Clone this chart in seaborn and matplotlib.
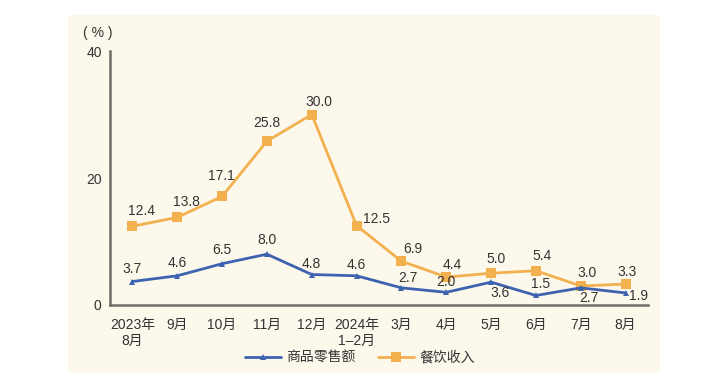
import numpy as np
import pandas as pd
import matplotlib
matplotlib.use("Agg")
import matplotlib.pyplot as plt
from matplotlib.patches import Rectangle
from matplotlib.lines import Line2D
import seaborn as sns

categories = ["2023年\n8月", "9月", "10月", "11月", "12月", "2024年\n1–2月",
              "3月", "4月", "5月", "6月", "7月", "8月"]
retail = [3.7, 4.6, 6.5, 8.0, 4.8, 4.6, 2.7, 2.0, 3.6, 1.5, 2.7, 1.9]
catering = [12.4, 13.8, 17.1, 25.8, 30.0, 12.5, 6.9, 4.4, 5.0, 5.4, 3.0, 3.3]
series_names = ["商品零售额", "餐饮收入"]
y_ticks = [0, 20, 40]

# label offsets in pixels (dx, dy)
retail_off = [(0, 13), (0, 13), (0, 14), (0, 14), (0, 11), (0, 11), (7, 10), (0, 10),
              (9, -11), (5, 11), (8, -10), (13, -3)]
catering_off = [(9, 15), (9, 15), (-1, 20), (0, 18), (7, 13), (20, 7), (11, 12), (6, 12),
                (5, 14), (6, 15), (6, 13), (1, 12)]

sns.set_theme(style="white")
plt.rcParams["font.family"] = ["Liberation Sans", "Noto Sans CJK SC", "DejaVu Sans"]

BLUE = "#3d63b0"
ORANGE = "#f2b04e"
TXT = "#333333"
SPINE = "#6f6a66"

fig = plt.figure(figsize=(7.06, 3.80), dpi=100)
fig.patch.set_facecolor("white")
fig.patches.append(Rectangle((68 / 706, 1 - 373 / 380), (660 - 68) / 706, (373 - 15) / 380,
                             transform=fig.transFigure, facecolor="#fdf8ec",
                             edgecolor="none", zorder=-10))
ax = fig.add_axes([110 / 706, 1 - 305 / 380, (648 - 110) / 706, (305 - 51) / 380])
ax.set_facecolor("none")
ax.set_zorder(2)

x = np.arange(len(categories))
df = pd.DataFrame({"x": np.concatenate([x, x]),
                   "y": retail + catering,
                   "s": [series_names[0]] * len(x) + [series_names[1]] * len(x)})

sns.lineplot(data=df[df.s == series_names[1]], x="x", y="y", color=ORANGE, lw=2.0,
             marker="s", markersize=6.5, markeredgewidth=0, ax=ax, legend=False, zorder=3)
sns.lineplot(data=df[df.s == series_names[0]], x="x", y="y", color=BLUE, lw=2.0,
             marker="^", markersize=4, markeredgewidth=0, ax=ax, legend=False, zorder=4)

for xi, v, (dx, dy) in zip(x, retail, retail_off):
    ax.annotate(f"{v:.1f}", (xi, v), xytext=(dx * 0.72, dy * 0.72), textcoords="offset points",
                ha="center", va="center", fontsize=10, color=TXT, zorder=6)
for xi, v, (dx, dy) in zip(x, catering, catering_off):
    ax.annotate(f"{v:.1f}", (xi, v), xytext=(dx * 0.72, dy * 0.72), textcoords="offset points",
                ha="center", va="center", fontsize=10, color=TXT, zorder=6)

ax.set_xlim(-0.5, len(categories) - 0.5)
ax.set_ylim(0, 40)
ax.set_yticks(y_ticks)
ax.set_yticklabels([str(t) for t in y_ticks], fontsize=10, color=TXT)
ax.set_xticks(x)
ax.set_xticklabels(categories, fontsize=10, color=TXT, linespacing=1.2)
ax.set_xticks(np.arange(0.5, len(categories), 1.0), minor=True)
ax.tick_params(axis="x", which="major", length=0, pad=9)
ax.tick_params(axis="x", which="minor", direction="in", length=5, width=1.2, color=SPINE)
ax.tick_params(axis="y", which="major", direction="in", length=5, width=1.2, color=SPINE, pad=6)
ax.set_xlabel("")
ax.set_ylabel("")
for s in ["top", "right"]:
    ax.spines[s].set_visible(False)
for s in ["left", "bottom"]:
    ax.spines[s].set_color(SPINE)
    ax.spines[s].set_linewidth(1.8)

fig.text(98 / 706, 1 - 33 / 380, "( % )", ha="center", va="center", fontsize=10, color=TXT)

handles = [Line2D([], [], color=BLUE, lw=2.0, marker="^", markersize=4, markeredgewidth=0),
           Line2D([], [], color=ORANGE, lw=2.0, marker="s", markersize=6.5, markeredgewidth=0)]
fig.legend(handles, series_names, loc="center", bbox_to_anchor=(0.51, 1 - 358 / 380), ncol=2,
           frameon=False, fontsize=10, handlelength=2.6, columnspacing=1.6, handletextpad=0.4,
           labelcolor=TXT)

fig.savefig("out.png", dpi=100)
